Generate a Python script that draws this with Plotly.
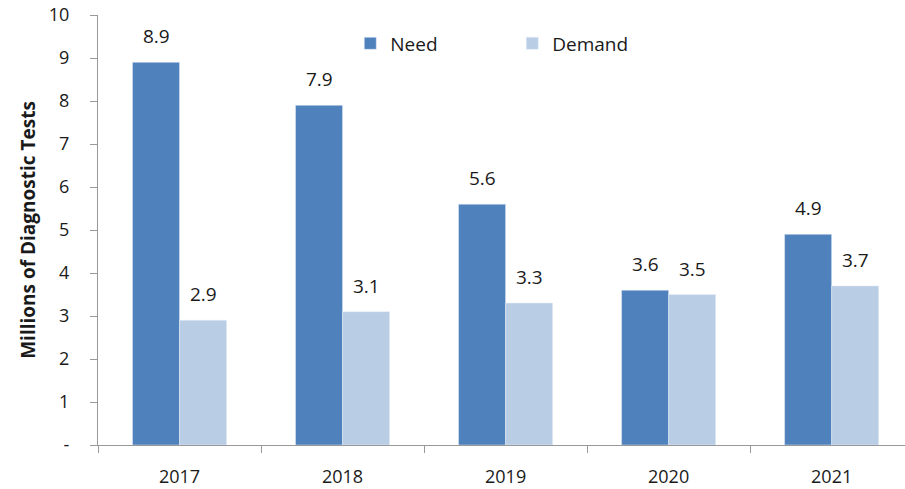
import plotly.graph_objects as go

years = ["2017", "2018", "2019", "2020", "2021"]
need = [8.9, 7.9, 5.6, 3.6, 4.9]
demand = [2.9, 3.1, 3.3, 3.5, 3.7]
y_ticks = [0, 1, 2, 3, 4, 5, 6, 7, 8, 9, 10]
y_ticktext = ["-", "1", "2", "3", "4", "5", "6", "7", "8", "9", "10"]

FONT = "'Open Sans', sans-serif"
TXT = "#1a1a1a"

fig = go.Figure()
fig.add_trace(go.Bar(x=years, y=need, name="Need", marker_color="#4F81BD"))
fig.add_trace(go.Bar(x=years, y=demand, name="Demand", marker_color="#B9CDE5"))

# value labels, placed above each bar via the data coordinates (category index)
annotations = []
for i, yr in enumerate(years):
    for vals, shift in ((need, -23.5), (demand, 23.5)):
        annotations.append(dict(x=i, y=vals[i], text=f"{vals[i]:.1f}", showarrow=False,
                                xref="x", yref="y", xanchor="center", yanchor="bottom",
                                xshift=shift, yshift=11,
                                font=dict(size=19, family=FONT, color=TXT)))

fig.update_layout(
    width=905, height=489,
    margin=dict(l=98, r=0, t=15, b=44),
    paper_bgcolor="white", plot_bgcolor="white",
    barmode="group", bargap=0.423, bargroupgap=0,
    font=dict(family=FONT, size=18, color=TXT),
    showlegend=True,
    annotations=annotations,
    legend=dict(orientation="h", x=0.3126, y=0.978, xanchor="left", yanchor="top",
                font=dict(size=19, family=FONT, color=TXT),
                entrywidth=117, entrywidthmode="pixels", bgcolor="rgba(0,0,0,0)"),
    xaxis=dict(type="category", range=[-0.5, 4.45], tickson="boundaries",
               ticks="outside", ticklen=7, tickcolor="#999", showline=True,
               linecolor="#999", linewidth=1, showgrid=False, ticklabelstandoff=15,
               tickfont=dict(size=18, family=FONT, color=TXT)),
    yaxis=dict(range=[0, 10], tickvals=y_ticks, ticktext=y_ticktext,
               ticks="outside", ticklen=7, tickcolor="#999", showline=True,
               linecolor="#999", linewidth=1, showgrid=False, zeroline=False,
               ticklabelstandoff=17,
               tickfont=dict(size=18, family=FONT, color=TXT),
               title=dict(text="<b>Millions of Diagnostic Tests</b>",
                          font=dict(size=19, family=FONT, color=TXT), standoff=8)),
)

fig.write_html("out.html")
